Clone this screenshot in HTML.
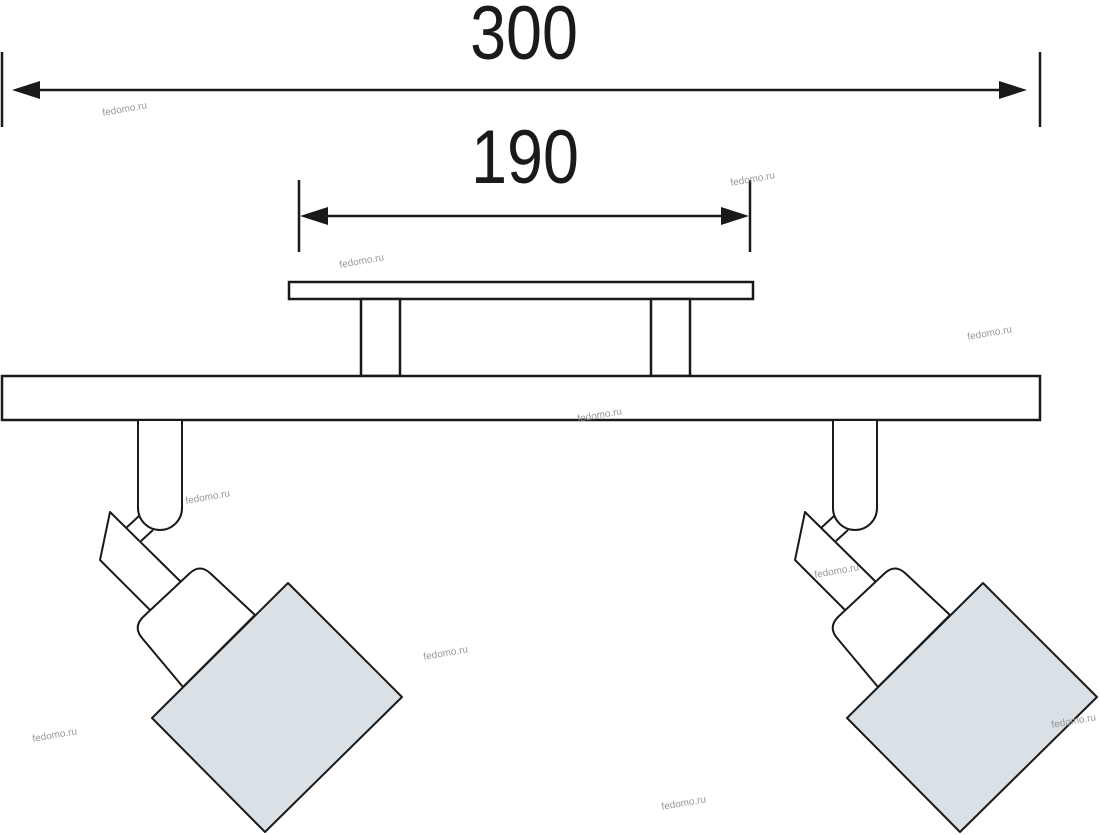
<!DOCTYPE html>
<html><head><meta charset="utf-8"><style>
html,body{margin:0;padding:0;background:#fff;width:1100px;height:835px;overflow:hidden}
svg{display:block}
.w{font-family:"Liberation Sans",sans-serif;font-size:10px;fill:#999}
</style></head><body>
<svg width="1100" height="835" viewBox="0 0 1100 835" xmlns="http://www.w3.org/2000/svg">
<g stroke="#1a1a1a" stroke-width="2.5" fill="none">
<line x1="2" y1="52" x2="2" y2="127"/>
<line x1="1040" y1="52" x2="1040" y2="127"/>
<line x1="30" y1="90" x2="1010" y2="90"/>
<line x1="299" y1="180" x2="299" y2="252"/>
<line x1="750" y1="180" x2="750" y2="252"/>
<line x1="320" y1="216" x2="730" y2="216"/>
</g>
<g fill="#1a1a1a">
<polygon points="12,90 40,81 40,99"/>
<polygon points="1027,90 999,81 999,99"/>
<polygon points="300,216 328,207 328,225"/>
<polygon points="749,216 721,207 721,225"/>
</g>
<text x="0" y="0" transform="translate(524,59) scale(0.85,1)" text-anchor="middle" font-family="Liberation Sans, sans-serif" font-size="76" fill="#1a1a1a">300</text>
<text x="0" y="0" transform="translate(525,183) scale(0.85,1)" text-anchor="middle" font-family="Liberation Sans, sans-serif" font-size="76" fill="#1a1a1a">190</text>
<g stroke="#1a1a1a" stroke-width="2.5" fill="#fff">
<rect x="289" y="282" width="464" height="17"/>
<rect x="361" y="299" width="39" height="77"/>
<rect x="651" y="299" width="39" height="77"/>
<rect x="2" y="376" width="1038" height="44"/>
</g>
<g id="lamp" stroke="#1a1a1a" stroke-width="2" fill="#fff" stroke-linejoin="round">
<path d="M138,421 V508 A22,22 0 0 0 182,508 V421"/>
<path d="M126,528 L139,516 M141,541 L153,530" fill="none"/>
<polygon points="110,512 182,583 152,612 100,560"/>
<path d="M255,615 L210,573 Q200,564 190,573 L143,617 Q133,627 142,638 L183,687 Z"/>
<polygon points="288,583 402,697 265,832 152,718" fill="#d9e0e6"/>
</g>
<use href="#lamp" transform="translate(695,0)"/>
<g class="w">
<text x="103" y="116" transform="rotate(-10 103 116)">fedomo.ru</text>
<text x="731" y="186" transform="rotate(-10 731 186)">fedomo.ru</text>
<text x="340" y="268" transform="rotate(-10 340 268)">fedomo.ru</text>
<text x="968" y="340" transform="rotate(-10 968 340)">fedomo.ru</text>
<text x="578" y="422" transform="rotate(-10 578 422)">fedomo.ru</text>
<text x="186" y="504" transform="rotate(-10 186 504)">fedomo.ru</text>
<text x="815" y="578" transform="rotate(-10 815 578)">fedomo.ru</text>
<text x="424" y="660" transform="rotate(-10 424 660)">fedomo.ru</text>
<text x="33" y="742" transform="rotate(-10 33 742)">fedomo.ru</text>
<text x="1052" y="728" transform="rotate(-10 1052 728)">fedomo.ru</text>
<text x="662" y="810" transform="rotate(-10 662 810)">fedomo.ru</text>
</g>
</svg>
</body></html>
